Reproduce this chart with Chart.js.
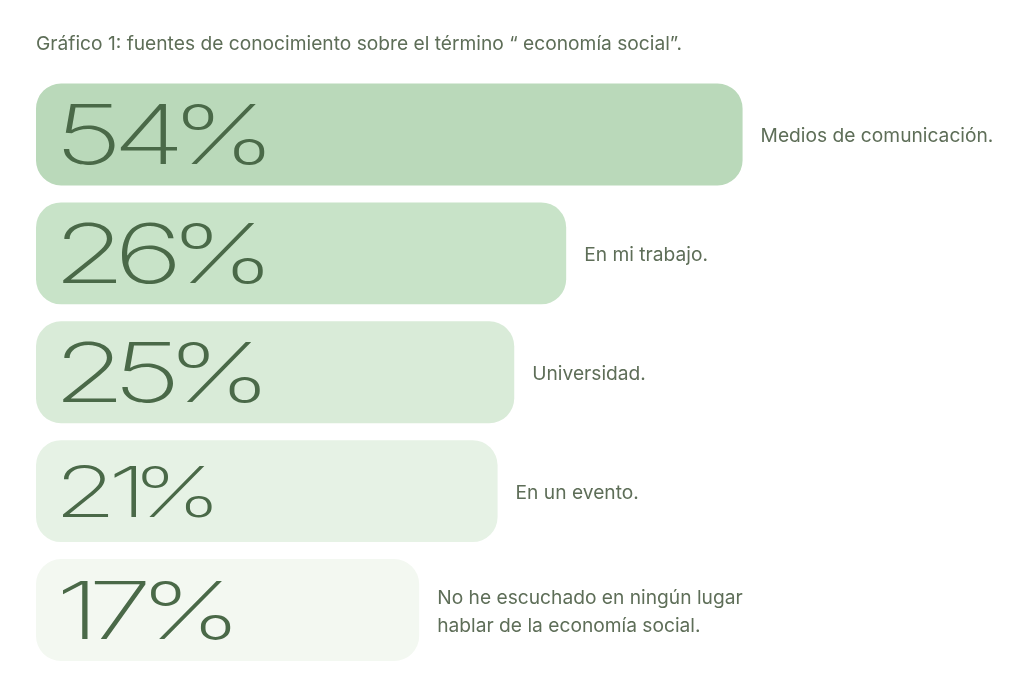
<!DOCTYPE html>
<html>
<head>
<meta charset="utf-8">
<script src="https://cdn.jsdelivr.net/npm/chart.js@4/dist/chart.umd.min.js"></script>
<style>
html,body{margin:0;padding:0;background:#fff;}
#wrap{width:1024px;height:688px;}
</style>
</head>
<body>
<div id="wrap"><canvas id="c" width="1024" height="688"></canvas></div>
<script>
// Data
const titleText = 'Gráfico 1: fuentes de conocimiento sobre el término “ economía social”.';
const categories = [
  'Medios de comunicación.',
  'En mi trabajo.',
  'Universidad.',
  'En un evento.',
  ['No he escuchado en ningún lugar', 'hablar de la economía social.']
];
const percentages = [54, 26, 25, 21, 17];
// Bars in the picture are decorative (not proportional); their lengths on a 0–100 axis:
const barLengths = [72.1, 54.1, 48.8, 47.1, 39.1];
const barColors = ['#bad9ba', '#c8e3c8', '#d9ebd8', '#e6f2e5', '#f3f8f1'];

// styles
const numSizes = [82, 82, 82, 70, 80];
const numColor = '#4a6948';
const labelColor = '#5e6e58';

const labelPlugin = {
  id: 'barLabels',
  afterDatasetsDraw(chart) {
    const ctx = chart.ctx;
    const meta = chart.getDatasetMeta(0);
    meta.data.forEach((bar, i) => {
      const props = bar.getProps(['x', 'y', 'base', 'height'], true);
      const left = props.base;
      const right = props.x;
      const cy = props.y;
      // big percentage, glyph by glyph (proportional spacing, widened)
      const size = numSizes[i];
      const stretch = 1.44;
      const gap = 5;
      ctx.save();
      ctx.font = '250 ' + size + 'px Inter';
      ctx.fillStyle = numColor;
      ctx.textBaseline = 'alphabetic';
      ctx.textAlign = 'left';
      const baseY = cy + size * 0.727 / 2;
      let cursor = left + 27;
      const txt = percentages[i] + '%';
      for (const ch of txt) {
        const m = ctx.measureText(ch);
        const bl = m.actualBoundingBoxLeft;
        const br = m.actualBoundingBoxRight;
        ctx.save();
        ctx.translate(cursor + bl * stretch, baseY);
        ctx.scale(stretch, 1);
        ctx.fillText(ch, 0, 0);
        ctx.restore();
        cursor += (bl + br) * stretch + gap;
      }
      ctx.restore();
      // category label
      ctx.save();
      ctx.font = '400 19.2px Inter';
      ctx.fillStyle = labelColor;
      ctx.textAlign = 'left';
      ctx.textBaseline = 'middle';
      const lines = Array.isArray(categories[i]) ? categories[i] : [categories[i]];
      const lh = 28;
      const startY = cy + 2 - (lines.length - 1) * lh / 2;
      lines.forEach((ln, k) => ctx.fillText(ln, right + 18, startY + k * lh));
      ctx.restore();
    });
  }
};

new Chart(document.getElementById('c'), {
  type: 'bar',
  data: {
    labels: categories,
    datasets: [{
      data: barLengths,
      backgroundColor: barColors,
      borderRadius: 25,
      borderSkipped: false,
      barPercentage: 1,
      categoryPercentage: 0.857
    }]
  },
  options: {
    indexAxis: 'y',
    responsive: false,
    animation: false,
    events: [],
    layout: { padding: { left: 36, right: 8, top: 0, bottom: 18.5 } },
    scales: {
      x: { display: false, min: 0, max: 100 },
      y: { display: false }
    },
    plugins: {
      legend: { display: false },
      tooltip: { enabled: false },
      title: {
        display: true,
        text: titleText,
        align: 'start',
        color: labelColor,
        font: { family: 'Inter', size: 19.2, weight: '400' },
        padding: { top: 33, bottom: 19 }
      }
    }
  },
  plugins: [labelPlugin]
});
</script>
</body>
</html>
